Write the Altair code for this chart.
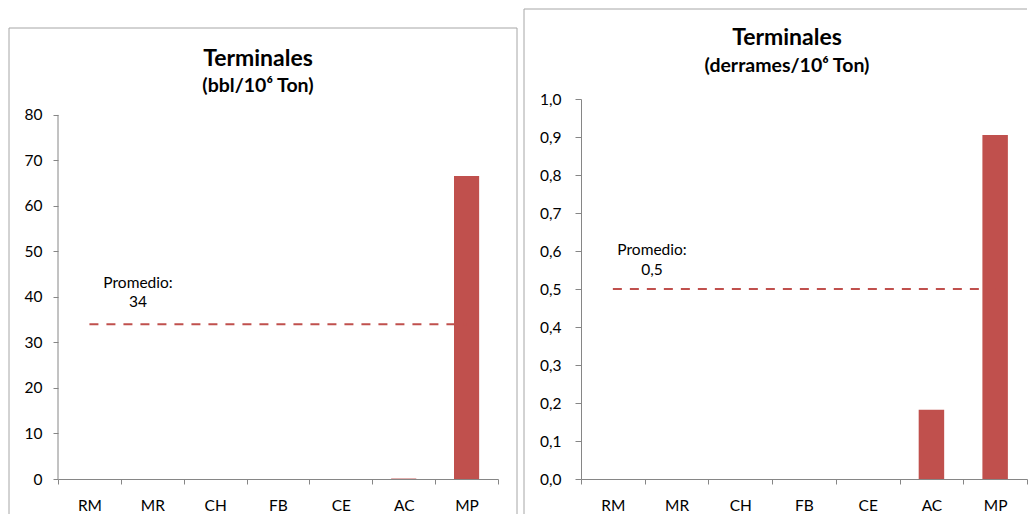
import altair as alt
import pandas as pd

# ---------------- data ----------------
categories = ["RM", "MR", "CH", "FB", "CE", "AC", "MP"]
bbl_values = [0, 0, 0, 0, 0, 0.1, 66.6]
derrames_values = [0, 0, 0, 0, 0, 0.182, 0.905]
bbl_avg = [34]
derrames_avg = [0.5]
bbl_avg_label = ["34"]
derrames_avg_label = ["0,5"]
bbl_ticks = [0, 10, 20, 30, 40, 50, 60, 70, 80]
derrames_ticks = [0.0, 0.1, 0.2, 0.3, 0.4, 0.5, 0.6, 0.7, 0.8, 0.9, 1.0]
titles = ["Terminales", "Terminales"]
subtitles = ["(bbl/10\u2076 Ton)", "(derrames/10\u2076 Ton)"]

BAR = "#C0504D"
AXIS_GREY = "#868686"
BORDER = "#A6A6A6"
FONT = "Lato"
PLOT_H = 380
LABEL_SIZE = 15.5
FRAME_BOTTOM = 415


def one():
    return pd.DataFrame({"k": [0]})


def panel(values, avg, avg_label, ticks, ymax, title, subtitle, label_expr,
          width, ylab_pad, ytick, draw_domain_rule, title_x, title_y, sub_y,
          txt_x, txt_dy, txt_lh, border):
    df = pd.DataFrame({"cat": categories, "val": values})
    xscale = alt.Scale(domain=categories, paddingInner=0, paddingOuter=0)
    yscale = alt.Scale(domain=[0, ymax], nice=False, zero=True)

    xaxis = alt.Axis(title=None, labelAngle=0, tickBand="extent", tickSize=5,
                     tickColor=AXIS_GREY, domainColor=AXIS_GREY, labelPadding=14,
                     labelFont=FONT, labelFontSize=LABEL_SIZE, labelColor="#000",
                     grid=False, labelOverlap=False)
    yaxis = alt.Axis(title=None, values=ticks, grid=False, tickSize=ytick,
                     tickColor=AXIS_GREY, domain=not draw_domain_rule,
                     domainColor=AXIS_GREY, labelPadding=ylab_pad, labelFont=FONT,
                     labelFontSize=LABEL_SIZE, labelColor="#000", labelExpr=label_expr,
                     labelOverlap=False)

    avg_df = pd.DataFrame({"x": [categories[0]], "x2": [categories[-1]],
                           "y": avg, "lab": avg_label})

    bars = alt.Chart(df).mark_bar(
        color=BAR, width=alt.RelativeBandSize(0.4)
    ).encode(
        x=alt.X("cat:N", scale=xscale, axis=xaxis, sort=categories),
        y=alt.Y("val:Q", scale=yscale, axis=yaxis),
    )

    avg_line = alt.Chart(avg_df).mark_rule(
        color=BAR, strokeWidth=2, strokeDash=[9, 8]
    ).encode(
        x=alt.X("x:N", scale=xscale, sort=categories, axis=xaxis),
        x2="x2:N",
        y=alt.Y("y:Q", scale=yscale, axis=yaxis),
    )

    avg_text = alt.Chart(avg_df).mark_text(
        text=["Promedio:", avg_label[0]], font=FONT, fontSize=LABEL_SIZE, color="#000",
        align="center", baseline="alphabetic", lineHeight=txt_lh, dy=txt_dy
    ).encode(
        x=alt.value(txt_x),
        y=alt.Y("y:Q", scale=yscale, axis=yaxis),
    )

    ttl = alt.Chart(one()).mark_text(
        text=title, font=FONT, fontSize=23, fontWeight="bold", color="#000",
        align="center", baseline="alphabetic"
    ).encode(x=alt.value(title_x), y=alt.value(title_y))

    sub = alt.Chart(one()).mark_text(
        text=subtitle, font=FONT, fontSize=19.5, fontWeight="bold", color="#000",
        align="center", baseline="alphabetic"
    ).encode(x=alt.value(title_x), y=alt.value(sub_y))

    # bars layer first so its axis definitions are the ones used
    layers = [bars, avg_line, avg_text, ttl, sub]

    if draw_domain_rule:
        layers.append(
            alt.Chart(one()).mark_rule(color=AXIS_GREY, strokeWidth=1).encode(
                x=alt.value(0), y=alt.datum(0, scale=yscale, axis=yaxis),
                y2=alt.datum(ticks[-1])
            )
        )

    # panel frame (Excel chart border)
    for (x1, y1, x2, y2) in border:
        layers.append(
            alt.Chart(one()).mark_rule(color=BORDER, strokeWidth=1).encode(
                x=alt.value(x1), y=alt.value(y1), x2=alt.value(x2), y2=alt.value(y2)
            )
        )

    return alt.layer(*layers).properties(width=width, height=PLOT_H)


left = panel(
    bbl_values, bbl_avg, bbl_avg_label, bbl_ticks, 83.5,
    titles[0], subtitles[0], "format(datum.value, 'd')",
    width=440, ylab_pad=11, ytick=5, draw_domain_rule=True,
    title_x=200, title_y=-33, sub_y=-7,
    txt_x=80, txt_dy=-36, txt_lh=19,
    border=[(-49, -71, -49, FRAME_BOTTOM), (-49, -71, 459, -71),
            (459, -71, 459, FRAME_BOTTOM)],
)

right = panel(
    derrames_values, derrames_avg, derrames_avg_label, derrames_ticks, 1.0,
    titles[1], subtitles[1], "replace(format(datum.value, '.1f'), '.', ',')",
    width=446, ylab_pad=14, ytick=6, draw_domain_rule=False,
    title_x=206, title_y=-54, sub_y=-27,
    txt_x=71, txt_dy=-34, txt_lh=20,
    border=[(-57, -90, -57, FRAME_BOTTOM), (-57, -90, 446, -90)],
)

chart = alt.hconcat(left, right, spacing=83, bounds="flush").configure_view(
    stroke=None
).properties(padding=0, background="white")

chart.save("out.html", embed_options={"renderer": "svg", "actions": False})
